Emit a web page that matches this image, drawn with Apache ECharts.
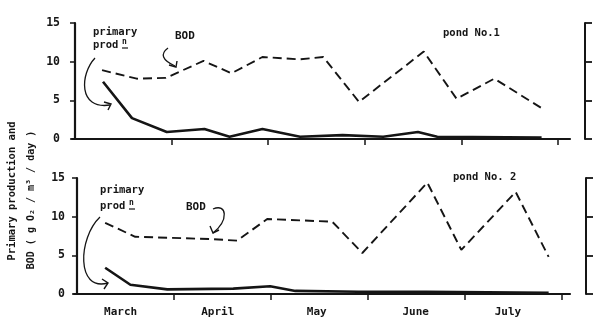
<!DOCTYPE html>
<html>
<head>
<meta charset="utf-8">
<script src="https://cdn.jsdelivr.net/npm/echarts@6/dist/echarts.min.js"></script>
<style>html,body{margin:0;padding:0;background:#fff}#c{width:600px;height:327px}</style>
</head>
<body>
<div id="c"></div>
<script>
// ---- data (x = months since 1 March) ----
var months = ['March', 'April', 'May', 'June', 'July'];
var monthLabelPos = [0.45, 1.45, 2.47, 3.49, 4.44];
var monthTicks = [1, 2, 3, 4, 5];
var yTicks = [0, 5, 10, 15];

var pond1BodX = [0.28, 0.64, 0.94, 1.33, 1.62, 1.94, 2.33, 2.57, 2.94, 3.61, 3.95, 4.34, 4.83];
var pond1BodY = [8.9, 7.8, 7.9, 10.1, 8.5, 10.6, 10.3, 10.6, 4.8, 11.3, 5.2, 7.8, 4.0];
var pond1PrimX = [0.29, 0.59, 0.95, 1.34, 1.60, 1.94, 2.33, 2.77, 3.19, 3.55, 3.75, 4.83];
var pond1PrimY = [7.4, 2.7, 0.9, 1.3, 0.3, 1.3, 0.3, 0.5, 0.3, 0.9, 0.3, 0.2];

var pond2BodX = [0.29, 0.60, 1.39, 1.65, 1.96, 2.63, 2.94, 3.61, 3.96, 4.52, 4.86];
var pond2BodY = [9.2, 7.4, 7.1, 6.9, 9.7, 9.35, 5.3, 14.4, 5.7, 13.2, 4.8];
var pond2PrimX = [0.29, 0.55, 0.93, 1.61, 1.99, 2.25, 2.90, 3.60, 4.86];
var pond2PrimY = [3.4, 1.2, 0.6, 0.7, 1.0, 0.4, 0.3, 0.3, 0.15];

function zip(xs, ys) { return xs.map(function (x, i) { return [x, ys[i]]; }); }

var FONT = '"DejaVu Sans Mono", monospace';
var INK = '#151515';

function xAx(gi, min, max, showLabels) {
  return {
    type: 'value', gridIndex: gi, min: min, max: max,
    splitLine: { show: false },
    axisLine: { show: true, onZero: false, lineStyle: { color: INK, width: 2.2 } },
    axisTick: { show: true, customValues: monthTicks, length: 6, lineStyle: { color: INK, width: 1.5 } },
    axisLabel: {
      show: showLabels, customValues: monthLabelPos, margin: 13,
      fontFamily: FONT, fontWeight: 'bold', fontSize: 11, color: INK,
      formatter: function (v) {
        var i = monthLabelPos.indexOf(v);
        return i >= 0 ? months[i] : '';
      }
    }
  };
}
function yLeft(gi, margin) {
  return {
    type: 'value', gridIndex: gi, min: 0, max: 15, interval: 5, position: 'left',
    splitLine: { show: false },
    axisLine: { show: true, lineStyle: { color: INK, width: 2.2 } },
    axisTick: { show: true, length: 5, lineStyle: { color: INK, width: 1.5 } },
    axisLabel: { margin: margin, fontFamily: FONT, fontWeight: 'bold', fontSize: 11.5, color: INK,
      padding: [0, 0, 4, 0] }
  };
}
function yRight(gi, off) {
  return {
    type: 'value', gridIndex: gi, min: 0, max: 15, interval: 5, position: 'right', offset: off,
    splitLine: { show: false },
    axisLine: { show: true, lineStyle: { color: INK, width: 2 } },
    axisTick: { show: true, length: 7, lineStyle: { color: INK, width: 1.8 } },
    axisLabel: { show: false }
  };
}
function bodSeries(xi, yi, d) {
  return { type: 'line', xAxisIndex: xi, yAxisIndex: yi, data: d, symbol: 'none', smooth: false,
    lineStyle: { color: INK, width: 1.9, type: [9, 5] }, silent: true, animation: false };
}
function primSeries(xi, yi, d) {
  return { type: 'line', xAxisIndex: xi, yAxisIndex: yi, data: d, symbol: 'none', smooth: false,
    lineStyle: { color: INK, width: 2.6 }, silent: true, animation: false };
}

function txt(x, y, s, size, rot, align) {
  var o = { type: 'text', x: x, y: y, silent: true,
    style: { text: s, font: 'bold ' + (size || 11) + 'px ' + FONT, fill: INK,
      align: align || 'left', verticalAlign: 'middle', textAlign: align || 'left', textVerticalAlign: 'middle' } };
  if (rot) o.rotation = rot;
  return o;
}
function curve(x1, y1, c1x, c1y, c2x, c2y, x2, y2) {
  return { type: 'bezierCurve', silent: true,
    shape: { x1: x1, y1: y1, cpx1: c1x, cpy1: c1y, cpx2: c2x, cpy2: c2y, x2: x2, y2: y2 },
    style: { stroke: INK, lineWidth: 1.3, fill: 'none' } };
}
function head(pts) {
  return { type: 'polyline', silent: true, shape: { points: pts },
    style: { stroke: INK, lineWidth: 1.4, fill: 'none' } };
}
function seg(x1, y1, x2, y2) {
  return { type: 'line', silent: true, shape: { x1: x1, y1: y1, x2: x2, y2: y2 },
    style: { stroke: INK, lineWidth: 1.2 } };
}

var chart = echarts.init(document.getElementById('c'), null, { renderer: 'canvas' });
chart.setOption({
  backgroundColor: '#ffffff',
  animation: false,
  grid: [
    { left: 72, width: 498, top: 23, height: 116 },
    { left: 74, width: 496, top: 178, height: 116 }
  ],
  xAxis: [xAx(0, -0.031, 5.124, false), xAx(1, -0.031, 5.08, true)],
  yAxis: [yLeft(0, 12), yRight(0, 15), yLeft(1, 9), yRight(1, 16)],
  series: [
    bodSeries(0, 0, zip(pond1BodX, pond1BodY)),
    primSeries(0, 0, zip(pond1PrimX, pond1PrimY)),
    bodSeries(1, 2, zip(pond2BodX, pond2BodY)),
    primSeries(1, 2, zip(pond2PrimX, pond2PrimY))
  ],
  graphic: [
    // y-axis title (two rotated lines)
    txt(12, 191, 'Primary production and', 10.5, Math.PI / 2, 'center'),
    txt(31, 200, 'BOD ( g O\u2082 / m\u00b3 / day )', 10, Math.PI / 2, 'center'),
    // pond 1 annotations
    txt(93, 32, 'primary', 10.5),
    txt(93, 45, 'prod', 10.5),
    txt(122, 42, 'n', 8),
    seg(122, 48, 128, 48),
    txt(175, 36, 'BOD', 11),
    txt(443, 33.5, 'pond No.1', 10.5),
    curve(95, 58, 80, 74, 78, 110, 110, 105),
    head([[104, 102], [111, 104], [108, 110]]),
    curve(168, 48, 160, 54, 162, 60, 175, 66),
    head([[169, 65], [176, 67], [177, 61]]),
    // pond 2 annotations
    txt(100, 190, 'primary', 10.5),
    txt(100, 206, 'prod', 10.5),
    txt(129, 203, 'n', 8),
    seg(129, 209, 135, 209),
    txt(186, 207, 'BOD', 11),
    txt(453, 177, 'pond No. 2', 10.5),
    curve(100, 217, 78, 238, 76, 292, 108, 283),
    head([[102, 279], [108, 283], [104, 289]]),
    curve(213, 209, 227, 203, 229, 220, 213, 233),
    head([[210, 226], [213, 233], [219, 230]])
  ]
});
</script>
</body>
</html>
